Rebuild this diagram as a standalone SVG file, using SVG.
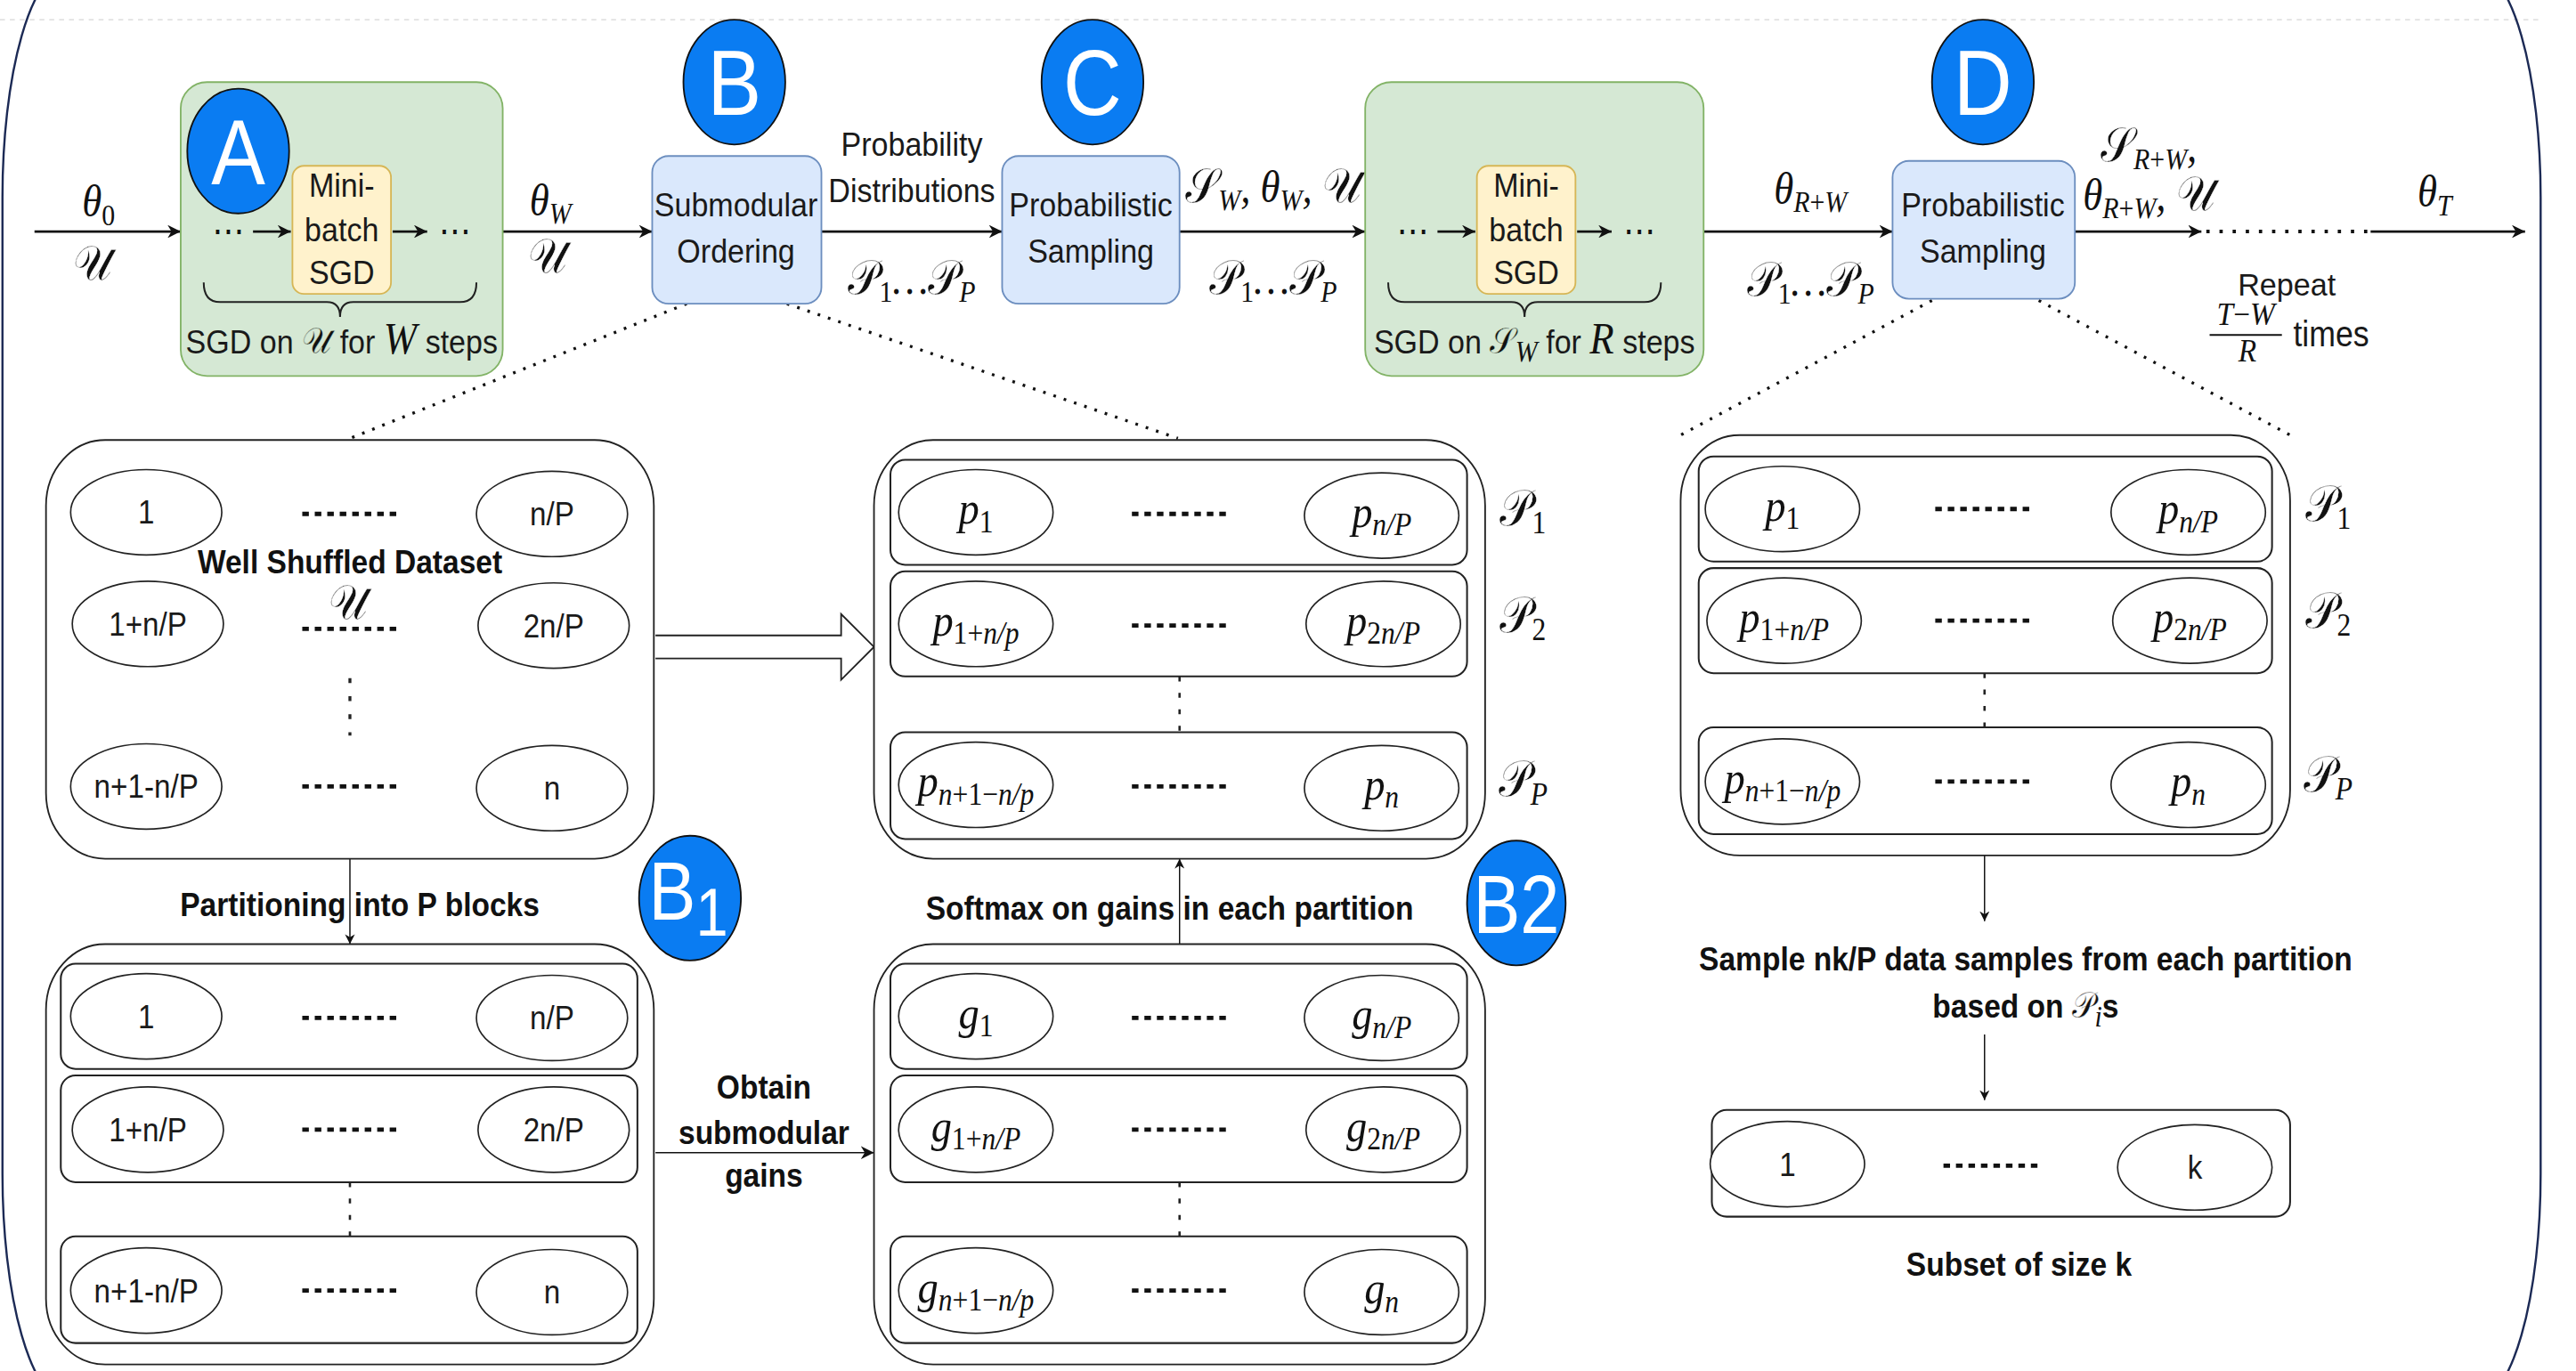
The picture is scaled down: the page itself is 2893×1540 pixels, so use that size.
<svg xmlns="http://www.w3.org/2000/svg" width="2893" height="1540" viewBox="0 0 2893 1540">
<defs>
<style>
.t{font-family:"Liberation Sans",Arial,sans-serif;font-size:20.5px;fill:#1a1a1a;text-anchor:middle}
.e{font-family:"Liberation Sans",Arial,sans-serif;font-size:20px;fill:#1a1a1a;text-anchor:middle}
.b{font-family:"Liberation Sans",Arial,sans-serif;font-size:20.2px;font-weight:bold;fill:#111;text-anchor:middle}
.m{font-family:"Liberation Serif","Times New Roman",serif;font-style:italic;font-size:27px;fill:#111;text-anchor:middle}
.mp{font-family:"Liberation Serif","Times New Roman",serif;font-style:italic;font-size:28px;fill:#111;text-anchor:middle}
.c{font-family:"DejaVu Serif","DejaVu Sans","Noto Sans",serif;font-style:normal;font-weight:normal;font-size:1.08em;stroke:#fff;stroke-width:0.22px}
.cg{stroke:#d5e8d4}
.u{font-style:normal}
.s{font-size:18px}
.s2{font-size:19px}
.cd{font-family:"DejaVu Sans",sans-serif;font-size:22px;fill:#111;text-anchor:middle}
.big{font-family:"Liberation Sans",Arial,sans-serif;font-size:56px;fill:#fff;text-anchor:middle}
.badge{fill:#0a7cf2;stroke:#111;stroke-width:1}
.green{fill:#d5e8d4;stroke:#82b366;stroke-width:1}
.yellow{fill:#fff2cc;stroke:#d6b656;stroke-width:1}
.blue{fill:#dae8fc;stroke:#6c8ebf;stroke-width:1}
.box{fill:#fff;stroke:#222;stroke-width:1}
.row{fill:none;stroke:#222;stroke-width:1.1}
.el{fill:#fff;stroke:#222;stroke-width:0.9}
.wire{fill:none;stroke:#111;stroke-width:1.5}
.thin{fill:none;stroke:#111;stroke-width:0.8}
.brace{fill:none;stroke:#222;stroke-width:1.1}
.dots{fill:none;stroke:#111;stroke-width:2.6;stroke-dasharray:4 3.6}
.vd{fill:none;stroke:#222;stroke-width:1.4;stroke-dasharray:3 7}
.zoom{fill:none;stroke:#111;stroke-width:1.8;stroke-dasharray:1.6 5}
</style>
<marker id="ah" viewBox="0 0 10 10" refX="10" refY="5" markerWidth="8" markerHeight="8" markerUnits="userSpaceOnUse" orient="auto"><path d="M0,0 L10,5 L0,10 L3,5 Z" fill="#111"/></marker>
<marker id="ahs" viewBox="0 0 10 10" refX="10" refY="5" markerWidth="6" markerHeight="6" markerUnits="userSpaceOnUse" orient="auto"><path d="M0,0 L10,5 L0,10 L3,5 Z" fill="#111"/></marker>
</defs>
<rect x="0" y="0" width="2893" height="1540" fill="#fff"/>
<g transform="scale(1.845 1.8443)">
<!-- frame -->
<line x1="0" y1="12" x2="1548" y2="12" stroke="#d6d6d6" stroke-width="0.7" stroke-dasharray="3 3"/>
<rect x="1.5" y="-19" width="1545" height="873" rx="40" ry="139" fill="none" stroke="#1c2a55" stroke-width="1.3"/>

<!-- connectors -->
<g id="connectors">
<path class="wire" d="M21,141 H110" marker-end="url(#ah)"/>
<path class="wire" d="M306,141 H397" marker-end="url(#ah)"/>
<path class="wire" d="M500,141 H610" marker-end="url(#ah)"/>
<path class="wire" d="M718,141 H831" marker-end="url(#ah)"/>
<path class="wire" d="M1037,141 H1152" marker-end="url(#ah)"/>
<path class="wire" d="M1263,141 H1340" marker-end="url(#ah)"/>
<path d="M1343,141 H1443" fill="none" stroke="#111" stroke-width="2.2" stroke-dasharray="2 6"/>
<path class="wire" d="M1443,141 H1537" marker-end="url(#ah)"/>
<path class="zoom" d="M418,185 L213,267"/>
<path class="zoom" d="M479,185 L717,267"/>
<path class="zoom" d="M1176,183 L1023,265"/>
<path class="zoom" d="M1241,183 L1394,265"/>
<path class="thin" d="M213,523 V575" marker-end="url(#ahs)"/>
<path class="thin" d="M718,575 V523" marker-end="url(#ahs)"/>
<path class="thin" d="M399,702 H532" marker-end="url(#ah)"/>
<path class="thin" d="M1208,521 V561" marker-end="url(#ahs)"/>
<path class="thin" d="M1208,630 V670" marker-end="url(#ahs)"/>
<path d="M399,387 H512 V374 L532,394 L512,414 V401 H399" fill="#fff" stroke="#222" stroke-width="1"/>
<!-- edge labels -->
<text class="m" transform="translate(60 132) scale(.9 1)">θ<tspan class="u s" dy="5">0</tspan></text>
<text class="m" transform="translate(56 170) scale(.9 1)"><tspan class="c">𝒰</tspan></text>
<text class="m" transform="translate(335 131) scale(.9 1)">θ<tspan class="s" dy="5">W</tspan></text>
<text class="m" transform="translate(333 166) scale(.9 1)"><tspan class="c">𝒰</tspan></text>
<text class="t" transform="translate(555 95) scale(.9 1)">Probability</text>
<text class="t" transform="translate(555 123) scale(.9 1)">Distributions</text>
<text class="m" transform="translate(555 179) scale(.9 1)"><tspan class="c">𝒫</tspan><tspan class="u s" dy="5">1</tspan><tspan dy="-5">…</tspan><tspan class="c">𝒫</tspan><tspan class="s" dy="5">P</tspan></text>
<text class="m" transform="translate(775 123) scale(.9 1)"><tspan class="c">𝒮</tspan><tspan class="s" dy="5">W</tspan><tspan dy="-5">, θ</tspan><tspan class="s" dy="5">W</tspan><tspan dy="-5">, </tspan><tspan class="c">𝒰</tspan></text>
<text class="m" transform="translate(775 179) scale(.9 1)"><tspan class="c">𝒫</tspan><tspan class="u s" dy="5">1</tspan><tspan dy="-5">…</tspan><tspan class="c">𝒫</tspan><tspan class="s" dy="5">P</tspan></text>
<text class="m" transform="translate(1102 124) scale(.9 1)">θ<tspan class="s" dy="5">R<tspan class="u">+</tspan>W</tspan></text>
<text class="m" transform="translate(1102 180) scale(.9 1)"><tspan class="c">𝒫</tspan><tspan class="u s" dy="5">1</tspan><tspan dy="-5">…</tspan><tspan class="c">𝒫</tspan><tspan class="s" dy="5">P</tspan></text>
<text class="m" transform="translate(1308 98) scale(.9 1)"><tspan class="c">𝒮</tspan><tspan class="s" dy="5">R<tspan class="u">+</tspan>W</tspan><tspan dy="-5">,</tspan></text>
<text class="m" transform="translate(1308 128) scale(.9 1)">θ<tspan class="s" dy="5">R<tspan class="u">+</tspan>W</tspan><tspan dy="-5">, </tspan><tspan class="c">𝒰</tspan></text>
<text class="m" transform="translate(1482 126) scale(.9 1)">θ<tspan class="s" dy="5">T</tspan></text>
<text class="t" transform="translate(1392 180) scale(.95 1)" style="font-size:19.5px">Repeat</text>
<text class="m" transform="translate(1367 198) scale(.95 1)" style="font-size:19px">T<tspan class="u">−</tspan>W</text>
<line x1="1345" y1="204" x2="1389" y2="204" stroke="#111" stroke-width="1.1"/>
<text class="m" transform="translate(1368 220) scale(.95 1)" style="font-size:19px">R</text>
<text class="t" transform="translate(1419 211) scale(.88 1)" style="font-size:22px">times</text>
<text class="b" transform="translate(219 558) scale(.9 1)">Partitioning into P blocks</text>
<text class="b" transform="translate(465 669) scale(.9 1)">Obtain</text>
<text class="b" transform="translate(465 697) scale(.9 1)">submodular</text>
<text class="b" transform="translate(465 723) scale(.9 1)">gains</text>
<text class="b" transform="translate(712 560) scale(.9 1)">Softmax on gains in each partition</text>
<text class="b" transform="translate(1233 591) scale(.9 1)">Sample nk/P data samples from each partition</text>
<text class="b" transform="translate(1233 620) scale(.9 1)">based on <tspan class="m c" style="font-weight:normal">𝒫</tspan><tspan class="m s" style="font-weight:normal" dy="5">i</tspan><tspan dy="-5">s</tspan></text>
</g>

<!-- stage A: warm-up SGD on the full set -->
<g id="stage-a">
<rect class="green" x="110" y="50" width="196" height="179" rx="16"/>
<rect class="yellow" x="178" y="101" width="60" height="78" rx="7"/>
<text class="t" transform="translate(208 120) scale(.9 1)">Mini-</text>
<text class="t" transform="translate(208 147) scale(.9 1)">batch</text>
<text class="t" transform="translate(208 173) scale(.9 1)">SGD</text>
<text class="cd" transform="translate(139 148) scale(.9 1)">⋯</text>
<path class="wire" d="M154,141 H177" marker-end="url(#ah)"/>
<path class="wire" d="M239,141 H260" marker-end="url(#ah)"/>
<text class="cd" transform="translate(277 148) scale(.9 1)">⋯</text>
<path class="brace" d="M124,172 Q124,184 134,184 L199,184 Q207,184 207,193 Q207,184 215,184 L280,184 Q290,184 290,172"/>
<text class="t" transform="translate(208 215) scale(.9 1)">SGD on <tspan class="m c cg">𝒰</tspan> for <tspan class="m">W</tspan> steps</text>
<ellipse class="badge" cx="145" cy="92" rx="31" ry="38"/>
<text class="big" transform="translate(145 112) scale(.88 1)">A</text>
</g>

<!-- stage B: submodular ordering -->
<g id="stage-b">
<rect class="blue" x="397" y="95" width="103" height="90" rx="10"/>
<text class="t" transform="translate(448 132) scale(.9 1)">Submodular</text>
<text class="t" transform="translate(448 160) scale(.9 1)">Ordering</text>
<ellipse class="badge" cx="447" cy="50" rx="31" ry="38"/>
<text class="big" transform="translate(447 70) scale(.88 1)">B</text>
</g>

<!-- stage C: first probabilistic sampling -->
<g id="stage-c">
<rect class="blue" x="610" y="95" width="108" height="90" rx="10"/>
<text class="t" transform="translate(664 132) scale(.9 1)">Probabilistic</text>
<text class="t" transform="translate(664 160) scale(.9 1)">Sampling</text>
<ellipse class="badge" cx="665" cy="50" rx="31" ry="38"/>
<text class="big" transform="translate(665 70) scale(.88 1)">C</text>
</g>

<!-- SGD on the sampled subset -->
<g id="stage-subset-sgd">
<rect class="green" x="831" y="50" width="206" height="179" rx="16"/>
<rect class="yellow" x="899" y="101" width="60" height="78" rx="7"/>
<text class="t" transform="translate(929 120) scale(.9 1)">Mini-</text>
<text class="t" transform="translate(929 147) scale(.9 1)">batch</text>
<text class="t" transform="translate(929 173) scale(.9 1)">SGD</text>
<text class="cd" transform="translate(860 148) scale(.9 1)">⋯</text>
<path class="wire" d="M875,141 H898" marker-end="url(#ah)"/>
<path class="wire" d="M960,141 H981" marker-end="url(#ah)"/>
<text class="cd" transform="translate(998 148) scale(.9 1)">⋯</text>
<path class="brace" d="M845,172 Q845,184 855,184 L920,184 Q928,184 928,193 Q928,184 936,184 L1001,184 Q1011,184 1011,172"/>
<text class="t" transform="translate(934 215) scale(.9 1)">SGD on <tspan class="m c cg">𝒮</tspan><tspan class="m s" dy="5">W</tspan><tspan dy="-5"> for </tspan><tspan class="m">R</tspan> steps</text>
</g>

<!-- stage D: repeated probabilistic sampling -->
<g id="stage-d">
<rect class="blue" x="1152" y="98" width="111" height="84" rx="10"/>
<text class="t" transform="translate(1207 132) scale(.9 1)">Probabilistic</text>
<text class="t" transform="translate(1207 160) scale(.9 1)">Sampling</text>
<ellipse class="badge" cx="1207" cy="50" rx="31" ry="38"/>
<text class="big" transform="translate(1207 70) scale(.88 1)">D</text>
</g>

<!-- shuffled dataset -->
<g id="dataset">
<rect class="box" x="28" y="268" width="370" height="255" rx="36" ry="40"/>
<ellipse class="el" cx="89" cy="312" rx="46" ry="26"/>
<text class="e" transform="translate(89 319) scale(.9 1)">1</text>
<line class="dots" x1="184" y1="313" x2="244" y2="313"/>
<ellipse class="el" cx="336" cy="313" rx="46" ry="26"/>
<text class="e" transform="translate(336 320) scale(.9 1)">n/P</text>
<text class="b" transform="translate(213 349) scale(.9 1)">Well Shuffled Dataset</text>
<text class="m" transform="translate(212 377) scale(.9 1)"><tspan class="c">𝒰</tspan></text>
<ellipse class="el" cx="90" cy="380" rx="46" ry="26"/>
<text class="e" transform="translate(90 387) scale(.9 1)">1+n/P</text>
<line class="dots" x1="184" y1="383" x2="244" y2="383"/>
<ellipse class="el" cx="337" cy="381" rx="46" ry="26"/>
<text class="e" transform="translate(337 388) scale(.9 1)">2n/P</text>
<line x1="213" y1="413" x2="213" y2="448" stroke="#222" stroke-width="1.8" stroke-dasharray="3 8"/>
<ellipse class="el" cx="89" cy="479" rx="46" ry="26"/>
<text class="e" transform="translate(89 486) scale(.9 1)">n+1-n/P</text>
<line class="dots" x1="184" y1="479" x2="244" y2="479"/>
<ellipse class="el" cx="336" cy="480" rx="46" ry="26"/>
<text class="e" transform="translate(336 487) scale(.9 1)">n</text>
</g>

<!-- B1: partition blocks -->
<g id="partitions">
<rect class="box" x="28" y="575" width="370" height="256" rx="36" ry="40"/>
<rect class="row" x="37" y="587" width="351" height="64" rx="9"/>
<rect class="row" x="37" y="655" width="351" height="65" rx="9"/>
<rect class="row" x="37" y="753" width="351" height="65" rx="9"/>
<line class="vd" x1="213" y1="720" x2="213" y2="753"/>
<ellipse class="el" cx="89" cy="619" rx="46" ry="26"/>
<text class="e" transform="translate(89 626) scale(.9 1)">1</text>
<line class="dots" x1="184" y1="620" x2="244" y2="620"/>
<ellipse class="el" cx="336" cy="620" rx="46" ry="26"/>
<text class="e" transform="translate(336 627) scale(.9 1)">n/P</text>
<ellipse class="el" cx="90" cy="688" rx="46" ry="26"/>
<text class="e" transform="translate(90 695) scale(.9 1)">1+n/P</text>
<line class="dots" x1="184" y1="688" x2="244" y2="688"/>
<ellipse class="el" cx="337" cy="688" rx="46" ry="26"/>
<text class="e" transform="translate(337 695) scale(.9 1)">2n/P</text>
<ellipse class="el" cx="89" cy="786" rx="46" ry="26"/>
<text class="e" transform="translate(89 793) scale(.9 1)">n+1-n/P</text>
<line class="dots" x1="184" y1="786" x2="244" y2="786"/>
<ellipse class="el" cx="336" cy="787" rx="46" ry="26"/>
<text class="e" transform="translate(336 794) scale(.9 1)">n</text>
<ellipse class="badge" cx="420" cy="547" rx="31" ry="38"/>
<text class="big" transform="translate(419 560) scale(.86 1)" style="font-size:50px">B<tspan dy="10" style="font-size:41px">1</tspan></text>
</g>

<!-- B2: submodular gains -->
<g id="gains">
<rect class="box" x="532" y="575" width="372" height="256" rx="36" ry="40"/>
<rect class="row" x="542" y="587" width="351" height="64" rx="9"/>
<rect class="row" x="542" y="655" width="351" height="65" rx="9"/>
<rect class="row" x="542" y="753" width="351" height="65" rx="9"/>
<line class="vd" x1="718" y1="720" x2="718" y2="753"/>
<ellipse class="el" cx="594" cy="619" rx="47" ry="26"/>
<text class="mp" transform="translate(594 626) scale(.9 1)">g<tspan class="u s2" dy="5">1</tspan></text>
<line class="dots" x1="689" y1="620" x2="749" y2="620"/>
<ellipse class="el" cx="841" cy="620" rx="47" ry="26"/>
<text class="mp" transform="translate(841 627) scale(.9 1)">g<tspan class="s2" dy="5">n/P</tspan></text>
<ellipse class="el" cx="594" cy="688" rx="47" ry="26"/>
<text class="mp" transform="translate(594 695) scale(.9 1)">g<tspan class="s2" dy="5"><tspan class="u">1+</tspan>n/P</tspan></text>
<line class="dots" x1="689" y1="688" x2="749" y2="688"/>
<ellipse class="el" cx="842" cy="688" rx="47" ry="26"/>
<text class="mp" transform="translate(842 695) scale(.9 1)">g<tspan class="s2" dy="5"><tspan class="u">2</tspan>n/P</tspan></text>
<ellipse class="el" cx="594" cy="786" rx="47" ry="26"/>
<text class="mp" transform="translate(594 793) scale(.9 1)">g<tspan class="s2" dy="5">n<tspan class="u">+1−</tspan>n/p</tspan></text>
<line class="dots" x1="689" y1="786" x2="749" y2="786"/>
<ellipse class="el" cx="841" cy="787" rx="47" ry="26"/>
<text class="mp" transform="translate(841 794) scale(.9 1)">g<tspan class="s2" dy="5">n</tspan></text>
<ellipse class="badge" cx="923" cy="550" rx="30" ry="38"/>
<text class="big" transform="translate(923 568) scale(.86 1)" style="font-size:50px">B2</text>
</g>

<!-- probabilities per partition -->
<g id="probabilities">
<rect class="box" x="532" y="268" width="372" height="255" rx="36" ry="40"/>
<rect class="row" x="542" y="280" width="351" height="64" rx="9"/>
<rect class="row" x="542" y="348" width="351" height="64" rx="9"/>
<rect class="row" x="542" y="446" width="351" height="65" rx="9"/>
<line class="vd" x1="718" y1="412" x2="718" y2="446"/>
<ellipse class="el" cx="594" cy="312" rx="47" ry="26"/>
<text class="mp" transform="translate(594 319) scale(.9 1)">p<tspan class="u s2" dy="5">1</tspan></text>
<line class="dots" x1="689" y1="313" x2="749" y2="313"/>
<ellipse class="el" cx="841" cy="314" rx="47" ry="26"/>
<text class="mp" transform="translate(841 321) scale(.9 1)">p<tspan class="s2" dy="5">n/P</tspan></text>
<ellipse class="el" cx="594" cy="380" rx="47" ry="26"/>
<text class="mp" transform="translate(594 387) scale(.9 1)">p<tspan class="s2" dy="5"><tspan class="u">1+</tspan>n/p</tspan></text>
<line class="dots" x1="689" y1="381" x2="749" y2="381"/>
<ellipse class="el" cx="842" cy="380" rx="47" ry="26"/>
<text class="mp" transform="translate(842 387) scale(.9 1)">p<tspan class="s2" dy="5"><tspan class="u">2</tspan>n/P</tspan></text>
<ellipse class="el" cx="594" cy="478" rx="47" ry="26"/>
<text class="mp" transform="translate(594 485) scale(.9 1)">p<tspan class="s2" dy="5">n<tspan class="u">+1−</tspan>n/p</tspan></text>
<line class="dots" x1="689" y1="479" x2="749" y2="479"/>
<ellipse class="el" cx="841" cy="480" rx="47" ry="26"/>
<text class="mp" transform="translate(841 487) scale(.9 1)">p<tspan class="s2" dy="5">n</tspan></text>
<text class="mp" transform="translate(927 320) scale(.9 1)"><tspan class="c">𝒫</tspan><tspan class="u s2" dy="5">1</tspan></text>
<text class="mp" transform="translate(927 385) scale(.9 1)"><tspan class="c">𝒫</tspan><tspan class="u s2" dy="5">2</tspan></text>
<text class="mp" transform="translate(927 485) scale(.9 1)"><tspan class="c">𝒫</tspan><tspan class="s2" dy="5">P</tspan></text>
</g>

<!-- probabilities used by stage D -->
<g id="sampling-probabilities">
<rect class="box" x="1023" y="265" width="371" height="256" rx="36" ry="40"/>
<rect class="row" x="1034" y="278" width="349" height="64" rx="9"/>
<rect class="row" x="1034" y="346" width="349" height="64" rx="9"/>
<rect class="row" x="1034" y="443" width="349" height="65" rx="9"/>
<line class="vd" x1="1208" y1="410" x2="1208" y2="443"/>
<ellipse class="el" cx="1085" cy="310" rx="47" ry="26"/>
<text class="mp" transform="translate(1085 317) scale(.9 1)">p<tspan class="u s2" dy="5">1</tspan></text>
<line class="dots" x1="1178" y1="310" x2="1238" y2="310"/>
<ellipse class="el" cx="1332" cy="312" rx="47" ry="26"/>
<text class="mp" transform="translate(1332 319) scale(.9 1)">p<tspan class="s2" dy="5">n/P</tspan></text>
<ellipse class="el" cx="1086" cy="378" rx="47" ry="26"/>
<text class="mp" transform="translate(1086 385) scale(.9 1)">p<tspan class="s2" dy="5"><tspan class="u">1+</tspan>n/P</tspan></text>
<line class="dots" x1="1178" y1="378" x2="1238" y2="378"/>
<ellipse class="el" cx="1333" cy="378" rx="47" ry="26"/>
<text class="mp" transform="translate(1333 385) scale(.9 1)">p<tspan class="s2" dy="5"><tspan class="u">2</tspan>n/P</tspan></text>
<ellipse class="el" cx="1085" cy="476" rx="47" ry="26"/>
<text class="mp" transform="translate(1085 483) scale(.9 1)">p<tspan class="s2" dy="5">n<tspan class="u">+1−</tspan>n/p</tspan></text>
<line class="dots" x1="1178" y1="476" x2="1238" y2="476"/>
<ellipse class="el" cx="1332" cy="478" rx="47" ry="26"/>
<text class="mp" transform="translate(1332 485) scale(.9 1)">p<tspan class="s2" dy="5">n</tspan></text>
<text class="mp" transform="translate(1417 317) scale(.9 1)"><tspan class="c">𝒫</tspan><tspan class="u s2" dy="5">1</tspan></text>
<text class="mp" transform="translate(1417 382) scale(.9 1)"><tspan class="c">𝒫</tspan><tspan class="u s2" dy="5">2</tspan></text>
<text class="mp" transform="translate(1417 482) scale(.9 1)"><tspan class="c">𝒫</tspan><tspan class="s2" dy="5">P</tspan></text>
</g>

<!-- sampled subset -->
<g id="subset">
<rect class="row" x="1042" y="676" width="352" height="65" rx="9"/>
<ellipse class="el" cx="1088" cy="709" rx="47" ry="26"/>
<text class="e" transform="translate(1088 716) scale(.9 1)">1</text>
<line class="dots" x1="1183" y1="710" x2="1243" y2="710"/>
<ellipse class="el" cx="1336" cy="711" rx="47" ry="26"/>
<text class="e" transform="translate(1336 718) scale(.9 1)">k</text>
<text class="b" transform="translate(1229 777) scale(.9 1)">Subset of size k</text>
</g>
</g>
</svg>
